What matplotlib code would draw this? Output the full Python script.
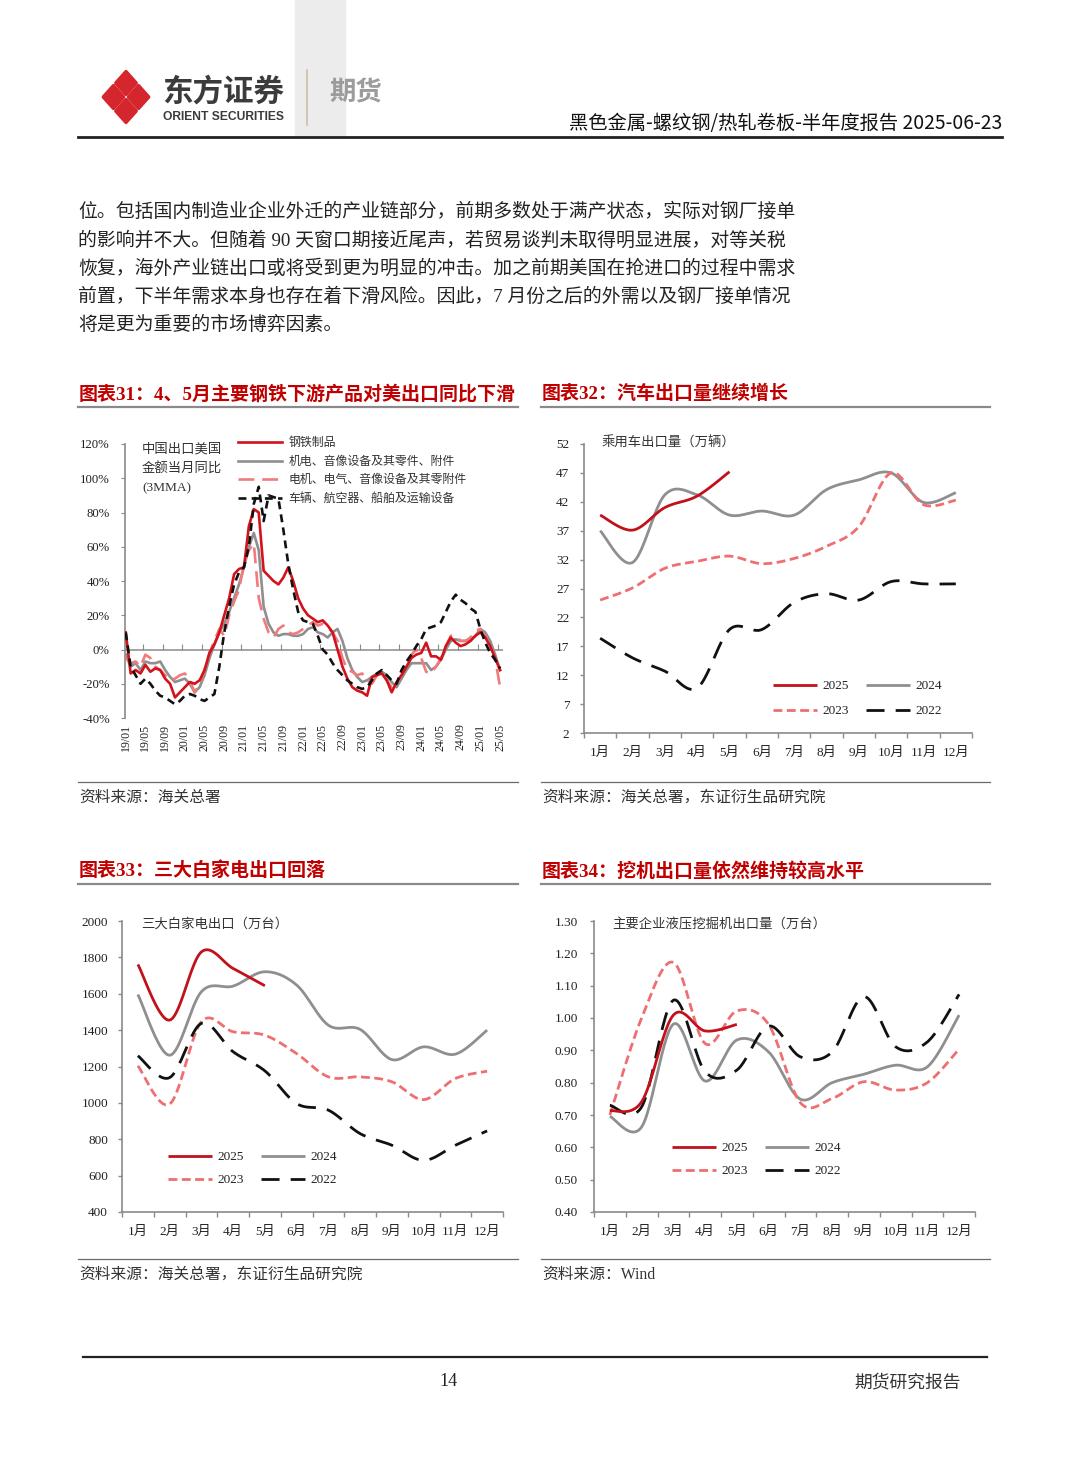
import numpy as np
import matplotlib
matplotlib.use('Agg')
import matplotlib.pyplot as plt
from matplotlib.patches import Polygon, Rectangle
from matplotlib.lines import Line2D
from matplotlib.ticker import NullFormatter

# ---------------- data ----------------
ym_labels = ['19/01', '19/05', '19/09', '20/01', '20/05', '20/09', '21/01', '21/05', '21/09', '22/01',
             '22/05', '22/09', '23/01', '23/05', '23/09', '24/01', '24/05', '24/09', '25/01', '25/05']
steel_products = [10, -14, -12, -14, -9, -13, -11, -12, -17, -20, -28, -25, -22, -19, -20, -18, -12, -2, 3, 10,
                  20, 30, 44, 47, 48, 72, 82, 80, 46, 43, 40, 38, 42, 48, 40, 30, 24, 20, 18, 16,
                  17, 14, 10, 0, -10, -17, -22, -24, -25, -27, -16, -15, -14, -18, -25, -19, -15, -10, -5, -3,
                  -2, 4, -4, -4, -6, 2, 7, 4, 2, 3, 5, 8, 10, 7, 2, -5, -12]
mech_av = [-3, -10, -8, -12, -7, -8, -8, -7, -12, -16, -19, -18, -17, -20, -25, -22, -15, -5, 3, 10,
           15, 22, 30, 38, 48, 60, 68, 58, 25, 15, 10, 8, 9, 9, 8, 8, 9, 12, 13, 10,
           9, 7, 10, 12, 5, -5, -12, -16, -19, -18, -16, -14, -13, -15, -19, -22, -17, -12, -8, -8,
           -8, -8, -12, -10, -6, 0, 5, 6, 5, 5, 6, 8, 12, 10, 5, -3, -12]
elec_av = [-5, -8, -7, -10, -3, -5, -10, -12, -15, -18, -17, -15, -14, -18, -25, -20, -12, -2, 5, 12,
           8, 20, 28, 35, 50, 58, 62, 30, 18, 10, 7, 12, 14, 10, 9, 10, 12, 14, 16, 14,
           15, 13, 10, 5, -5, -12, -13, -15, -14, -18, -20, -15, -13, -18, -22, -20, -15, -8, -3, 0,
           -5, -13, -14, -10, -5, 2, 8, 8, 5, 5, 7, 11, 12, 8, 3, -5, -22]
vehicles = [10, -10, -15, -20, -17, -20, -24, -27, -28, -30, -32, -30, -27, -26, -27, -29, -30, -28, -26, -10,
            10, 25, 38, 45, 48, 60, 85, 95, 75, 90, 89, 88, 70, 50, 35, 22, 17, 16, 15, 8,
            0, -3, -8, -12, -15, -18, -20, -22, -23, -22, -18, -14, -12, -15, -18, -20, -12, -7, -3, 2,
            6, 12, 13, 14, 16, 22, 28, 32, 29, 27, 24, 22, 12, 4, -2, -6, -11]

months = ['1月', '2月', '3月', '4月', '5月', '6月', '7月', '8月', '9月', '10月', '11月', '12月']

car_2025 = [39.7, 37.1, 41.0, 43.0, 47.2]
car_2024 = [37.0, 31.5, 43.2, 43.2, 39.7, 40.4, 39.7, 44.1, 45.8, 47.0, 41.9, 43.6]
car_2023 = [25.0, 27.1, 30.5, 31.7, 32.6, 31.3, 32.2, 34.3, 37.7, 47.0, 41.5, 42.3]
car_2022 = [18.4, 15.0, 12.7, 9.8, 19.9, 19.9, 24.6, 26.1, 25.0, 28.2, 27.8, 27.8]

wg_2025 = [1761, 1455, 1830, 1739, 1644]
wg_2024 = [1596, 1262, 1611, 1642, 1721, 1648, 1427, 1404, 1238, 1308, 1268, 1400]
wg_2023 = [1204, 993, 1446, 1391, 1372, 1271, 1143, 1143, 1116, 1018, 1134, 1174]
wg_2022 = [1259, 1139, 1437, 1281, 1176, 996, 960, 831, 767, 684, 767, 846]

ex_2025 = [0.713, 0.741, 1.009, 0.960, 0.980]
ex_2024 = [0.696, 0.663, 0.981, 0.805, 0.932, 0.895, 0.749, 0.800, 0.826, 0.854, 0.849, 1.009]
ex_2023 = [0.700, 1.000, 1.172, 0.921, 1.022, 0.980, 0.738, 0.751, 0.803, 0.777, 0.800, 0.904]
ex_2022 = [0.730, 0.725, 1.055, 0.834, 0.839, 0.975, 0.880, 0.895, 1.066, 0.911, 0.926, 1.073]

# ---------------- page setup ----------------
W, H = 1080, 1466
fig = plt.figure(figsize=(W / 100, H / 100), dpi=100)
fig.patch.set_facecolor('white')

SERIF_CJK = ['Liberation Serif', 'Noto Sans CJK SC']
SANS_CJK = ['Noto Sans CJK SC', 'DejaVu Sans']
SPINE = '#8a8a8a'
C_RED, C_GRAY, C_PINK, C_BLACK = '#c1121c', '#8f8f8f', '#ee6f72', '#111111'


def X(px):
    return px / W


def Y(py):
    return 1 - py / H


def txt(x, y, s, **kw):
    kw.setdefault('va', 'center')
    return fig.text(X(x), Y(y), s, **kw)


def hline(x0, x1, y, color, lw):
    fig.add_artist(Line2D([X(x0), X(x1)], [Y(y), Y(y)], color=color, lw=lw,
                          transform=fig.transFigure))


def axes_px(l, t, r, b):
    return fig.add_axes([X(l), Y(b), (r - l) / W, (b - t) / H])


def smooth(xs, ys, n=24):
    P = np.column_stack([np.asarray(xs, float), np.asarray(ys, float)])
    E = np.vstack([P[0], P, P[-1]])
    out = []
    t = np.linspace(0, 1, n, endpoint=False)[:, None]
    for i in range(len(P) - 1):
        p0, p1, p2, p3 = E[i], E[i + 1], E[i + 2], E[i + 3]
        out.append(0.5 * (2 * p1 + (-p0 + p2) * t + (2 * p0 - 5 * p1 + 4 * p2 - p3) * t ** 2
                          + (-p0 + 3 * p1 - 3 * p2 + p3) * t ** 3))
    out.append(P[-1][None, :])
    Q = np.vstack(out)
    return Q[:, 0], Q[:, 1]


# ---------------- header ----------------
fig.add_artist(Rectangle((X(295), Y(137)), 50 / W, 137 / H, color='#ececec',
                         transform=fig.transFigure, zorder=0))
cx, cy = 126, 97
dx, dy = 12.5, 14.0
hx, hy = 10.2, 11.4
for ox, oy in [(0, -dy), (-dx, 0), (dx, 0), (0, dy)]:
    px, py = cx + ox, cy + oy
    verts = [(X(px), Y(py - hy)), (X(px + hx), Y(py)), (X(px), Y(py + hy)), (X(px - hx), Y(py))]
    fig.add_artist(Polygon(verts, closed=True, color='#d6262d', joinstyle='round', lw=2.5,
                           transform=fig.transFigure))
txt(162, 92, '东方证券', fontsize=22, fontweight='bold', color='#3b3b3b', family=SANS_CJK)
txt(163, 117, 'ORIENT SECURITIES', fontsize=8.7, fontweight='bold', color='#3b3b3b',
    family=['Liberation Sans', 'DejaVu Sans'])
fig.add_artist(Line2D([X(307), X(307)], [Y(70), Y(125)], color='#cdbfa5', lw=1.2,
                      transform=fig.transFigure))
txt(329, 93, '期货', fontsize=19, fontweight='bold', color='#9c9c9c', family=SANS_CJK)
txt(1002, 124, '黑色金属-螺纹钢/热轧卷板-半年度报告 2025-06-23', fontsize=13.9, color='#111111',
    family=SANS_CJK, ha='right')
hline(78, 1002, 137, '#222222', 2.0)

# ---------------- paragraph ----------------
para = ['位。包括国内制造业企业外迁的产业链部分，前期多数处于满产状态，实际对钢厂接单',
        '的影响并不大。但随着 90 天窗口期接近尾声，若贸易谈判未取得明显进展，对等关税',
        '恢复，海外产业链出口或将受到更为明显的冲击。加之前期美国在抢进口的过程中需求',
        '前置，下半年需求本身也存在着下滑风险。因此，7 月份之后的外需以及钢厂接单情况',
        '将是更为重要的市场博弈因素。']
for k, line in enumerate(para):
    txt(78, 212 + 28.3 * k, line, fontsize=13.6, color='#222222', family=SERIF_CJK)

# ---------------- titles, rules, sources ----------------
TRED = '#c00000'
TSZ = 13.7
txt(79, 394, '图表31：4、5月主要钢铁下游产品对美出口同比下滑', fontsize=TSZ, fontweight='bold',
    color=TRED, family=SERIF_CJK)
txt(542, 394, '图表32：汽车出口量继续增长', fontsize=TSZ, fontweight='bold', color=TRED, family=SERIF_CJK)
txt(79, 871, '图表33：三大白家电出口回落', fontsize=TSZ, fontweight='bold', color=TRED, family=SERIF_CJK)
txt(542, 871, '图表34：挖机出口量依然维持较高水平', fontsize=TSZ, fontweight='bold', color=TRED,
    family=SERIF_CJK)
for y in (407, 884):
    hline(78, 518, y, '#8a8a8a', 1.6)
    hline(541, 990, y, '#8a8a8a', 1.6)
for y in (782, 1259):
    hline(78, 518, y, '#6a6a6a', 0.9)
    hline(541, 990, y, '#6a6a6a', 0.9)
SRC = dict(fontsize=11.3, color='#333333', family=SERIF_CJK)
txt(79, 798, '资料来源：海关总署', **SRC)
txt(542, 798, '资料来源：海关总署，东证衍生品研究院', **SRC)
txt(79, 1275, '资料来源：海关总署，东证衍生品研究院', **SRC)
txt(542, 1275, '资料来源：Wind', **SRC)

# ---------------- footer ----------------
hline(83, 987, 1357, '#222222', 1.6)
txt(448, 1382, '14', fontsize=13, color='#222222', family=['Liberation Serif'], ha='center')
txt(961, 1382, '期货研究报告', fontsize=12.8, color='#333333', family=SANS_CJK, ha='right')


# ---------------- helpers for axes ----------------
def style_axes(ax):
    for s in ('top', 'right'):
        ax.spines[s].set_visible(False)
    for s in ('left', 'bottom'):
        ax.spines[s].set_color(SPINE)
        ax.spines[s].set_linewidth(1.2)
    ax.set_facecolor('none')


def month_axes(ax, ylim, yticks, fmt, ypad):
    style_axes(ax)
    ax.set_xlim(0.5, 12.5)
    ax.set_ylim(*ylim)
    ax.set_xticks(np.arange(0.5, 12.6, 1))
    ax.xaxis.set_major_formatter(NullFormatter())
    ax.set_xticks(np.arange(1, 13), minor=True)
    ax.set_xticklabels(months, minor=True)
    ax.tick_params(axis='x', which='major', length=3.5, width=1.0, color=SPINE, direction='out')
    ax.tick_params(axis='x', which='minor', length=0, pad=10, labelsize=9.5, labelcolor='#222222')
    ax.set_yticks(yticks)
    ax.set_yticklabels([fmt(v) for v in yticks])
    ax.tick_params(axis='y', length=3, width=1.0, color=SPINE, pad=ypad, labelsize=9.5,
                   labelcolor='#222222')
    for lab in ax.get_xticklabels(minor=True):
        lab.set_fontfamily(SERIF_CJK)
    for lab in ax.get_yticklabels():
        lab.set_fontfamily(['Liberation Serif'])


def year_lines(ax, s25, s24, s23, s22):
    x = np.arange(1, 13)
    h24, = ax.plot(*smooth(x, s24), color=C_GRAY, lw=2.0, label='2024', solid_capstyle='butt')
    h23, = ax.plot(*smooth(x, s23), color=C_PINK, lw=2.0, ls=(0, (3.2, 1.6)), label='2023')
    h22, = ax.plot(*smooth(x, s22), color=C_BLACK, lw=2.0, ls=(0, (6.5, 4)), label='2022')
    h25, = ax.plot(*smooth(x[:len(s25)], s25), color=C_RED, lw=2.0, label='2025', solid_capstyle='butt')
    return [h25, h23, h24, h22]


def year_legend(ax, handles, left, top, spacing):
    leg = ax.legend(handles=handles, labels=[h.get_label() for h in handles], ncol=2,
                    loc='upper left', bbox_to_anchor=(X(left), Y(top)),
                    bbox_transform=fig.transFigure, frameon=False, borderpad=0,
                    borderaxespad=0, handlelength=3.3, handletextpad=0.45, columnspacing=1.3,
                    labelspacing=spacing, prop={'family': ['Liberation Serif'], 'size': 9.5})
    for t in leg.get_texts():
        t.set_color('#222222')
    return leg


# ---------------- chart 31 ----------------
ax1 = axes_px(125, 444, 503, 718)
style_axes(ax1)
ax1.spines['bottom'].set_visible(False)
xi = np.arange(len(steel_products))
ax1.set_xlim(-0.15, 76.6)
ax1.set_ylim(-40, 120)
ax1.axhline(0, color=SPINE, lw=1.1, zorder=1)
hg, = ax1.plot(xi, mech_av, color=C_GRAY, lw=1.9, zorder=3)
hp, = ax1.plot(xi, elec_av, color='#f07b7e', lw=1.9, ls=(0, (6, 3)), zorder=3)
hr, = ax1.plot(xi, steel_products, color='#d3121b', lw=1.9, zorder=4)
hb, = ax1.plot(xi, vehicles, color=C_BLACK, lw=1.9, ls=(0, (3, 2)), zorder=5)
ax1.set_xticks(np.arange(0, 77, 4))
ax1.set_xticklabels(ym_labels, rotation=90, fontsize=8.6, family=['Liberation Serif'], color='#222222')
ax1.tick_params(axis='x', length=0, pad=4)
yt1 = np.arange(-40, 121, 20)
ax1.set_yticks(yt1)
ax1.set_yticklabels([f'{v}%' for v in yt1], fontsize=9.2, family=['Liberation Serif'], color='#222222')
ax1.tick_params(axis='y', length=3, color=SPINE, pad=8)
sec = ax1.secondary_xaxis(0.25)
sec.set_xticks(np.arange(3.5, 76, 4))
sec.tick_params(axis='x', direction='in', length=4, color=SPINE, labelbottom=False, labeltop=False)
sec.spines['bottom'].set_visible(False)
ax1.text(0.045, 1.004, '中国出口美国\n金额当月同比\n(3MMA)', transform=ax1.transAxes, va='top', ha='left',
         fontsize=9.6, family=SERIF_CJK, color='#333333', linespacing=1.75)
leg1 = ax1.legend(handles=[hr, hg, hp, hb],
                  labels=['钢铁制品', '机电、音像设备及其零件、附件', '电机、电气、音像设备及其零附件',
                          '车辆、航空器、船舶及运输设备'],
                  loc='upper left', bbox_to_anchor=(X(238), Y(437)), bbox_transform=fig.transFigure,
                  frameon=False, borderpad=0, borderaxespad=0, handlelength=3.7, handletextpad=0.5,
                  labelspacing=0.56, prop={'family': SERIF_CJK, 'size': 8.6})
for t in leg1.get_texts():
    t.set_color('#333333')

# ---------------- chart 32 ----------------
ax2 = axes_px(584, 444, 972, 733)
month_axes(ax2, (2, 52), np.arange(2, 53, 5), lambda v: f'{v}', 7.5)
hs = year_lines(ax2, car_2025, car_2024, car_2023, car_2022)
year_legend(ax2, hs, 773, 680, 0.98)
ax2.text(X(602), Y(443), '乘用车出口量（万辆）', transform=fig.transFigure, va='center', ha='left',
         fontsize=9.6, family=SERIF_CJK, color='#333333')

# ---------------- chart 33 ----------------
ax3 = axes_px(122, 921, 503, 1212)
month_axes(ax3, (400, 2000), np.arange(400, 2001, 200), lambda v: f'{v}', 7)
hs = year_lines(ax3, wg_2025, wg_2024, wg_2023, wg_2022)
year_legend(ax3, hs, 168, 1151, 0.83)
ax3.text(X(141), Y(924), '三大白家电出口（万台）', transform=fig.transFigure, va='center', ha='left',
         fontsize=9.6, family=SERIF_CJK, color='#333333')

# ---------------- chart 34 ----------------
ax4 = axes_px(594, 921, 975, 1212)
month_axes(ax4, (0.4, 1.3), np.round(np.arange(0.4, 1.301, 0.1), 2), lambda v: f'{v:.2f}', 8.5)
hs = year_lines(ax4, ex_2025, ex_2024, ex_2023, ex_2022)
year_legend(ax4, hs, 672, 1142, 0.83)
ax4.text(X(612), Y(925), '主要企业液压挖掘机出口量（万台）', transform=fig.transFigure, va='center',
         ha='left', fontsize=9.6, family=SERIF_CJK, color='#333333')

fig.savefig('out.png', dpi=100, facecolor='white')
